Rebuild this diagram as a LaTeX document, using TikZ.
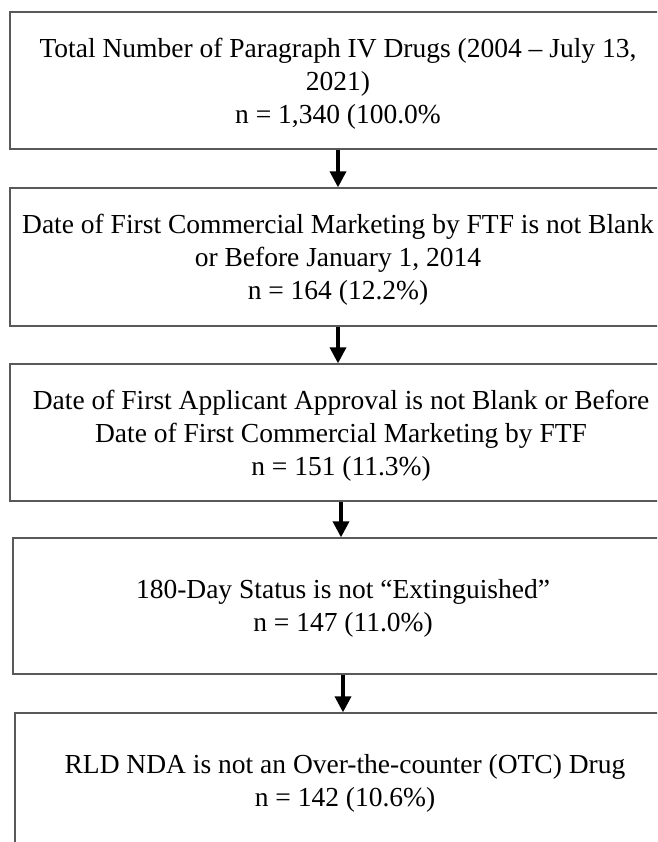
\documentclass[tikz,border=0pt]{standalone}
\usepackage{fontspec}
\setmainfont{Liberation Serif}
\usetikzlibrary{arrows.meta}
\begin{document}
\begin{tikzpicture}[x=1pt,y=-1pt,
  box/.style={draw=black!65, line width=1.3pt, rectangle, inner sep=0pt},
  txt/.style={align=center, inner sep=0pt, font=\fontsize{27.5}{33}\selectfont},
  arr/.style={line width=3.5pt, -{Triangle[width=16pt,length=16pt]}}]
\useasboundingbox (0,0) rectangle (657,842);
\clip (0,0) rectangle (657,842);
\node[box, minimum width=656pt, minimum height=137pt] (b1) at (338,80.5) {};
\node[box, minimum width=656pt, minimum height=138pt] (b2) at (338,257) {};
\node[box, minimum width=662pt, minimum height=137pt] (b3) at (341,432.5) {};
\node[box, minimum width=660pt, minimum height=136pt] (b4) at (343,606) {};
\node[box, minimum width=660pt, minimum height=137pt] (b5) at (345,781.5) {};
\node[txt] (t1) at ([yshift=-3pt]b1.center)
  {Total Number of Paragraph IV Drugs (2004 – July 13,\\ 2021)\\ n = 1,340 (100.0\%};
\node[txt] (t2) at ([yshift=-3pt]b2.center)
  {Date of First Commercial Marketing by FTF is not Blank\\ or Before January 1, 2014\\ n = 164 (12.2\%)};
\node[txt] (t3) at ([yshift=-3pt]b3.center)
  {Date of First Applicant Approval is not Blank or Before\\ Date of First Commercial Marketing by FTF\\ n = 151 (11.3\%)};
\node[txt] (t4) at ([yshift=-2pt]b4.center)
  {180-Day Status is not “Extinguished”\\ n = 147 (11.0\%)};
\node[txt] (t5) at ([yshift=-2pt]b5.center)
  {RLD NDA is not an Over-the-counter (OTC) Drug\\ n = 142 (10.6\%)};
\draw[arr] (b1.south) -- (b1.south |- b2.north);
\draw[arr] (b2.south) -- (b2.south |- b3.north);
\draw[arr] (b3.south) -- (b3.south |- b4.north);
\draw[arr] (b4.south) -- (b4.south |- b5.north);
\end{tikzpicture}
\end{document}
